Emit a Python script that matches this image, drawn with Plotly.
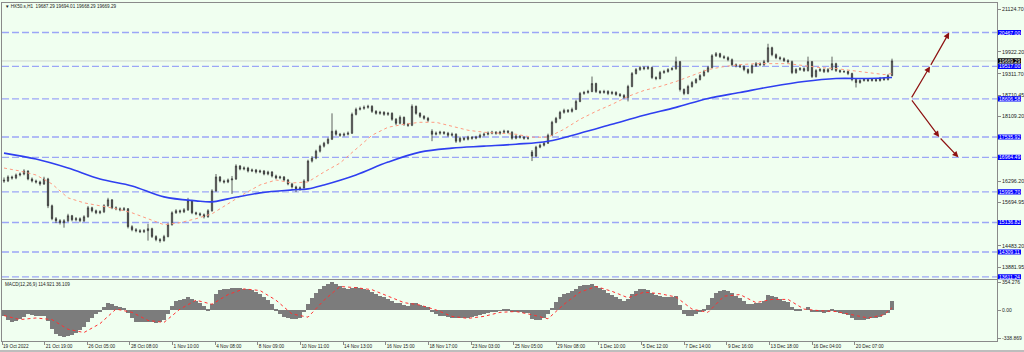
import plotly.graph_objects as go

# ---------------- data ----------------
OPEN = [16330,16302,16414,16386,16470,16497,16581,16358,16302,16274,
        16218,16358,15605,15242,15186,15130,15186,15326,15214,15242,
        15186,15298,15549,15465,15409,15437,15605,15772,15549,15521,
        15493,15521,15019,14935,14907,14879,14907,14963,14740,14656,
        14628,14740,15074,15409,15465,15437,15493,15744,15409,15381,
        15353,15298,15465,16023,16414,16302,16274,16330,16358,16721,
        16637,16665,16581,16609,16553,16581,16497,16553,16442,16386,
        16414,16330,16218,16135,16079,16107,16302,16860,16944,17139,
        17279,17362,17474,17697,17613,17585,17613,17641,18171,18311,
        18339,18367,18395,18255,18199,18227,18171,18199,18032,17920,
        18088,17892,17864,18395,18199,18116,18060,17697,17613,17641,
        17669,17641,17585,17613,17418,17502,17474,17530,17502,17530,
        17585,17613,17641,17669,17641,17669,17697,17669,17502,17558,
        17530,17502,17111,17000,17251,17306,17362,17585,17948,18060,
        18227,18283,18255,18311,18534,18757,18785,18813,19036,18813,
        18785,18813,18757,18785,18729,18701,18646,18953,19315,19427,
        19483,19455,19483,19204,19176,19343,19371,19427,19455,19650,
        18869,18757,18953,19064,19148,19259,19371,19483,19817,19873,
        19790,19762,19706,19566,19538,19511,19427,19343,19538,19594,
        19566,19650,20041,19845,19762,19734,19678,19650,19343,19427,
        19455,19399,19650,19232,19399,19427,19371,19427,19594,19399,
        19371,19371,19315,19148,19064,19120,19148,19120,19148,19120,
        19176,19148,19259]
HIGH = [16400,16460,16450,16510,16540,16630,16600,16400,16340,16310,
        16420,16390,15640,15290,15230,15230,15381,15350,15290,15280,
        15340,15600,15580,15500,15480,15650,15830,15790,15590,15560,
        15570,15540,15060,14980,14950,14950,15102,14990,14780,14700,
        14790,15120,15450,15510,15500,15540,15828,15770,15440,15420,
        15390,15510,16070,16497,16440,16340,16370,16442,16770,16750,
        16710,16700,16650,16640,16620,16610,16590,16580,16480,16450,
        16440,16360,16250,16170,16150,16350,16900,17000,17180,17320,
        17400,17520,18199,17740,17650,17660,17690,18220,18360,18390,
        18420,18440,18430,18290,18270,18260,18240,18230,18070,18140,
        18110,17930,18450,18420,18230,18150,18100,17753,17690,17710,
        17700,17680,17660,17640,17550,17530,17570,17560,17570,17630,
        17660,17690,17710,17700,17710,17740,17730,17700,17600,17590,
        17560,17540,17167,17290,17350,17400,17630,17990,18100,18270,
        18330,18320,18360,18580,18800,18830,18860,19232,19060,18850,
        18860,18850,18830,18820,18770,18740,19000,19360,19470,19530,
        19520,19530,19510,19240,19390,19420,19470,19500,19790,19670,
        18900,19000,19110,19190,19300,19420,19530,19860,19920,19900,
        19830,19800,19740,19600,19580,19550,19460,19580,19640,19630,
        19700,20152,20070,19880,19800,19770,19720,19680,19470,19500,
        19490,19790,19670,19440,19470,19460,19470,19790,19620,19430,
        19410,19400,19340,19180,19160,19190,19180,19190,19180,19220,
        19210,19300,19734]
LOW = [16250,16270,16340,16350,16430,16460,16320,16260,16230,16170,
       16190,15540,15200,15120,15080,14991,15150,15170,15170,15140,
       15150,15270,15420,15370,15370,15400,15580,15510,15480,15450,
       15460,14970,14890,14860,14840,14840,14628,14700,14610,14570,
       14600,14720,15050,15380,15390,15400,15460,15370,15340,15310,
       15250,15270,15440,16000,16260,16230,16240,15939,16330,16600,
       16600,16540,16550,16510,16520,16460,16460,16400,16350,16350,
       16290,16180,16090,15990,16030,16080,16280,16820,16910,17100,
       17240,17330,17450,17570,17540,17550,17580,17620,18140,18280,
       18300,18330,18210,18160,18160,18130,18130,17990,17870,17890,
       17850,17820,17840,18160,18070,18020,17960,17418,17580,17600,
       17600,17540,17550,17370,17380,17430,17440,17460,17470,17500,
       17550,17580,17610,17600,17600,17630,17630,17460,17470,17490,
       17460,17460,16860,16970,17220,17270,17340,17560,17920,18030,
       18190,18210,18220,18290,18510,18720,18750,18790,18770,18740,
       18750,18710,18720,18690,18660,18600,18534,18930,19290,19390,
       19410,19420,19160,19130,19150,19310,19340,19400,19420,18813,
       18710,18730,18920,19030,19120,19230,19340,19460,19780,19750,
       19720,19660,19520,19490,19470,19380,19300,19310,19500,19520,
       19530,19620,19800,19720,19690,19640,19600,19300,19310,19390,
       19360,19370,19190,19200,19360,19330,19340,19400,19360,19330,
       19330,19270,19100,18925,19030,19090,19080,19090,19080,19090,
       19110,19120,19240]
CLOSE = [16302,16414,16386,16470,16497,16581,16358,16302,16274,16218,
         16358,15605,15242,15186,15130,15186,15326,15214,15242,15186,
         15298,15549,15465,15409,15437,15605,15772,15549,15521,15493,
         15521,15019,14935,14907,14879,14907,14963,14740,14656,14628,
         14740,15074,15409,15465,15437,15493,15744,15409,15381,15353,
         15298,15465,16023,16414,16302,16274,16330,16358,16721,16637,
         16665,16581,16609,16553,16581,16497,16553,16442,16386,16414,
         16330,16218,16135,16079,16107,16302,16860,16944,17139,17279,
         17362,17474,17697,17613,17585,17613,17641,18171,18311,18339,
         18367,18395,18255,18199,18227,18171,18199,18032,17920,18088,
         17892,17864,18395,18199,18116,18060,18004,17613,17641,17669,
         17641,17585,17613,17418,17502,17474,17530,17502,17530,17585,
         17613,17641,17669,17641,17669,17697,17669,17502,17558,17530,
         17502,17502,17000,17251,17306,17362,17585,17948,18060,18227,
         18283,18255,18311,18534,18757,18785,18813,19036,18813,18785,
         18813,18757,18785,18729,18701,18646,18953,19315,19427,19483,
         19455,19483,19204,19176,19343,19371,19427,19455,19650,18869,
         18757,18953,19064,19148,19259,19371,19483,19817,19873,19790,
         19762,19706,19566,19538,19511,19427,19343,19538,19594,19566,
         19650,20041,19845,19762,19734,19678,19650,19343,19427,19455,
         19399,19650,19232,19399,19427,19371,19427,19594,19399,19371,
         19371,19315,19148,19064,19120,19148,19120,19148,19120,19176,
         19148,19259,19669.29]

MA_SLOW_BARS = [0,8,16,24,32,40,48,52,56,64,72,76,80,88,96,104,112,120,128,136,
                144,152,160,168,176,184,192,200,208,216,222]
MA_SLOW = [17083,16916,16665,16358,16163,15856,15744,15716,15800,15967,
           16051,16079,16190,16470,16832,17111,17223,17279,17334,17418,
           17641,17892,18143,18367,18618,18785,18953,19092,19176,19176,19204]

MA_FAST_BARS = [0,4,8,12,16,20,24,28,32,36,40,44,48,52,56,60,64,68,72,76,
                80,84,88,92,96,100,104,108,112,116,120,124,128,132,136,140,
                144,148,152,156,160,164,168,172,176,180,184,188,192,196,200,
                204,208,212,216,220,222]
MA_FAST = [16665,16581,16470,16218,15828,15688,15605,15521,15409,15242,
           15074,15130,15242,15381,15660,15939,16190,16330,16246,16274,
           16553,16804,17195,17585,17809,17892,17948,17948,17837,17725,
           17669,17641,17613,17530,17530,17753,18032,18255,18450,18674,
           18841,18953,19092,19259,19427,19511,19566,19594,19594,19594,
           19538,19483,19455,19399,19343,19287,19315]

MACD_MAIN = [-70,-120,-150,-130,-110,-80,-50,-60,-70,-75,
             -70,-130,-230,-290,-320,-330,-320,-300,-280,-250,
             -210,-150,-100,-50,-10,40,95,80,50,40,
             30,-30,-100,-140,-150,-150,-140,-145,-155,-150,
             -120,-40,50,110,130,135,165,140,110,90,
             50,10,80,200,250,265,270,275,280,275,
             270,265,255,230,200,160,130,80,20,-40,
             -80,-100,-110,-110,-90,-20,80,150,210,260,
             300,330,345,330,305,280,260,280,290,280,
             265,250,225,200,180,160,145,120,95,90,
             70,50,90,85,70,55,40,-20,-50,-65,
             -75,-85,-90,-100,-100,-95,-90,-85,-75,-60,
             -45,-30,-15,-10,-5,5,5,-15,-20,-25,
             -30,-35,-110,-120,-115,-100,-50,30,100,160,
             200,220,240,270,300,310,310,320,300,275,
             250,220,195,170,140,115,140,200,240,260,
             260,255,220,190,180,170,165,160,175,60,
             -40,-70,-70,-50,-20,20,70,150,210,240,
             250,240,210,180,155,120,80,80,90,95,
             110,190,180,160,140,120,100,40,20,10,
             0,40,-10,-20,-25,-30,-25,10,-10,-30,
             -45,-60,-90,-115,-120,-115,-110,-100,-90,-80,
             -60,-30,114.921]
SIGNAL_BARS = MA_FAST_BARS
MACD_SIGNAL = [-60,-110,-90,-110,-230,-270,-160,20,-20,-120,
               -145,20,130,80,200,270,250,130,-40,-80,
               130,300,285,260,180,100,70,10,-70,-95,
               -70,-20,-10,-50,-100,80,230,300,240,160,
               230,210,170,20,-20,180,200,100,140,140,
               20,0,-10,-50,-90,-50,36.109]

LEVELS = [20467.00, 19517.00, 18606.58, 17535.92, 16964.49, 15995.70, 15136.82, 14309.11, 13611.24]
BID = 19669.29
# visible price-scale labels (the ones hidden under the level boxes are left out)
PRICE_TICKS = [21124.70, 19922.20, 19311.70, 18710.45, 18109.20,
               16296.20, 15694.95, 14483.20, 13881.95]
MACD_TICKS = [354.276, 0.0, -338.869]
MACD_TICK_TEXT = ["354.276", "0.00", "-338.869"]
TIME_LABELS = ["19 Oct 2022", "21 Oct 19:00", "26 Oct 05:00", "28 Oct 08:00", "1 Nov 10:00",
               "4 Nov 08:00", "8 Nov 09:00", "10 Nov 11:00", "14 Nov 13:00", "16 Nov 15:00",
               "18 Nov 17:00", "23 Nov 03:00", "25 Nov 05:00", "29 Nov 08:00", "1 Dec 10:00",
               "5 Dec 12:00", "7 Dec 14:00", "9 Dec 16:00", "13 Dec 18:00", "16 Dec 04:00",
               "20 Dec 07:00"]
BARS_PER_LABEL = 10.66
HEADER = "\u25bc HK50.s,H1  19687.29 19694.01 19668.29 19669.29"
MACD_TITLE = "MACD(12,26,9) 114.921 36.109"

# projection arrows: bar positions (future bars) and target prices
UP_BARS = [226.7, 231.5, 236.3]
UP_PRICES = [18606.58, 19517.00, 20467.00]
DOWN_BARS = [226.7, 233.8, 238.6]
DOWN_PRICES = [18606.58, 17535.92, 16964.49]

# ---------------- styling ----------------
W, H = 1024, 352
BG = "#F0FFF0"
FONT = "Liberation Sans"
FS_Y = 5.3
FS_X = 4.7
FS_T = 4.6
FS_BOX = 5.1
X_RANGE = [-0.5, 248.25]
X_DOM = [2 / W, 997 / W]
MAIN_TOP_PX, MAIN_BOT_PX = 1, 279
MAIN_DOM = [(H - MAIN_BOT_PX) / H, (H - MAIN_TOP_PX) / H]
MACD_DOM = [(H - 341) / H, (H - 280) / H]
Y_RANGE = [13539.4, 21295.6]
PRICE_PER_PX = (Y_RANGE[1] - Y_RANGE[0]) / (MAIN_BOT_PX - MAIN_TOP_PX)
BOX_HALF = 2.6 * PRICE_PER_PX
BOX_X0, BOX_X1 = 998 / W, 1021 / W
FRAME = "#8a8a8a"

bars = list(range(len(CLOSE)))
fig = go.Figure()
fig.add_trace(go.Candlestick(
    x=bars, open=OPEN, high=HIGH, low=LOW, close=CLOSE,
    increasing=dict(line=dict(color="#383838", width=0.8), fillcolor="#7a7a7a"),
    decreasing=dict(line=dict(color="#383838", width=0.8), fillcolor="#383838"),
    whiskerwidth=0, showlegend=False, hoverinfo="skip", xaxis="x", yaxis="y"))
fig.add_trace(go.Scatter(x=MA_FAST_BARS, y=MA_FAST, mode="lines",
                         line=dict(color="#FF9A80", width=1, dash="dot"),
                         showlegend=False, hoverinfo="skip", xaxis="x", yaxis="y"))
fig.add_trace(go.Scatter(x=MA_SLOW_BARS, y=MA_SLOW, mode="lines", line_shape="spline",
                         line=dict(color="#2F3FF0", width=1.6),
                         showlegend=False, hoverinfo="skip", xaxis="x", yaxis="y"))
fig.add_trace(go.Bar(x=bars, y=MACD_MAIN, width=0.8,
                     marker=dict(color="#7c7c7c", line=dict(width=0)),
                     showlegend=False, hoverinfo="skip", xaxis="x2", yaxis="y2"))
fig.add_trace(go.Scatter(x=SIGNAL_BARS, y=MACD_SIGNAL, mode="lines",
                         line=dict(color="#FF3030", width=1, dash="dot"),
                         showlegend=False, hoverinfo="skip", xaxis="x2", yaxis="y2"))

tick_y = dict(family=FONT, size=FS_Y, color="#222222")
tick_x = dict(family=FONT, size=FS_X, color="#222222")
tick_m = dict(family=FONT, size=5.0, color="#222222")
fig.update_layout(
    width=W, height=H, margin=dict(l=0, r=0, t=0, b=0),
    paper_bgcolor=BG, plot_bgcolor=BG, showlegend=False, bargap=0, boxgap=0.55,
    xaxis=dict(domain=X_DOM, range=X_RANGE, anchor="y", showticklabels=False, ticks="",
               showgrid=False, zeroline=False, showline=True, linecolor=FRAME, linewidth=1,
               mirror=True, rangeslider=dict(visible=False)),
    yaxis=dict(domain=MAIN_DOM, range=Y_RANGE, anchor="x", side="right",
               tickvals=PRICE_TICKS, ticktext=[f"{v:.2f}" for v in PRICE_TICKS],
               ticks="outside", ticklen=3, tickcolor=FRAME, tickfont=tick_y,
               showgrid=False, zeroline=False, showline=True, linecolor=FRAME,
               linewidth=1, mirror=True),
    xaxis2=dict(domain=X_DOM, range=X_RANGE, anchor="y2",
                tickvals=[BARS_PER_LABEL * j - 0.5 for j in range(len(TIME_LABELS))],
                ticktext=TIME_LABELS, ticks="outside", ticklen=3, tickcolor=FRAME,
                ticklabelposition="outside right", tickfont=tick_x,
                showgrid=False, zeroline=False, showline=True, linecolor=FRAME,
                linewidth=1, mirror=True),
    yaxis2=dict(domain=MACD_DOM, range=[-375.8, 375.2], anchor="x2", side="right",
                tickvals=MACD_TICKS, ticktext=MACD_TICK_TEXT, ticks="outside", ticklen=3,
                tickcolor=FRAME, tickfont=tick_m, showgrid=False, zeroline=False,
                showline=True, linecolor=FRAME, linewidth=1, mirror=True),
)

shapes = []
for lv in LEVELS:
    shapes.append(dict(type="line", xref="paper", yref="y", x0=X_DOM[0], x1=X_DOM[1],
                       y0=lv, y1=lv, layer="below",
                       line=dict(color="#9CA6F6", width=1.3, dash="7px,3px")))
shapes.append(dict(type="line", xref="paper", yref="y", x0=X_DOM[0], x1=X_DOM[1],
                   y0=BID, y1=BID, layer="below", line=dict(color="#CFD8CF", width=1)))
for lv, col in [(v, "#0000FF") for v in LEVELS] + [(BID, "#000000")]:
    shapes.append(dict(type="rect", xref="paper", yref="y", x0=BOX_X0, x1=BOX_X1,
                       y0=lv - BOX_HALF, y1=lv + BOX_HALF, fillcolor=col,
                       line=dict(width=0), layer="above"))
shapes.append(dict(type="line", xref="paper", yref="paper", x0=0, x1=1, y0=1 / H, y1=1 / H,
                   line=dict(color="#BDBDBD", width=2)))
fig.update_layout(shapes=shapes)

ann = []
for lv in LEVELS + [BID]:
    ann.append(dict(xref="paper", yref="y", x=(BOX_X0 + BOX_X1) / 2, y=lv,
                    xanchor="center", yanchor="middle", text=f"{lv:.2f}", showarrow=False,
                    font=dict(family=FONT, size=FS_BOX, color="#FFFFFF")))
ann.append(dict(xref="paper", yref="paper", x=3 / W, y=(H - 5) / H, xanchor="left",
                yanchor="middle", text=HEADER, showarrow=False,
                font=dict(family=FONT, size=FS_T, color="#222222")))
ann.append(dict(xref="paper", yref="paper", x=3 / W, y=(H - 284) / H, xanchor="left",
                yanchor="middle", text=MACD_TITLE, showarrow=False,
                font=dict(family=FONT, size=FS_T, color="#222222")))
for bx, py in ((UP_BARS, UP_PRICES), (DOWN_BARS, DOWN_PRICES)):
    for k in range(1, len(bx)):
        ann.append(dict(xref="x", yref="y", axref="x", ayref="y",
                        x=bx[k], y=py[k], ax=bx[k - 1], ay=py[k - 1], text="",
                        showarrow=True, arrowhead=2, arrowsize=1, arrowwidth=1.2,
                        arrowcolor="#8E1212", standoff=0, startstandoff=0))
fig.update_layout(annotations=ann)

fig.write_html("out.html")
